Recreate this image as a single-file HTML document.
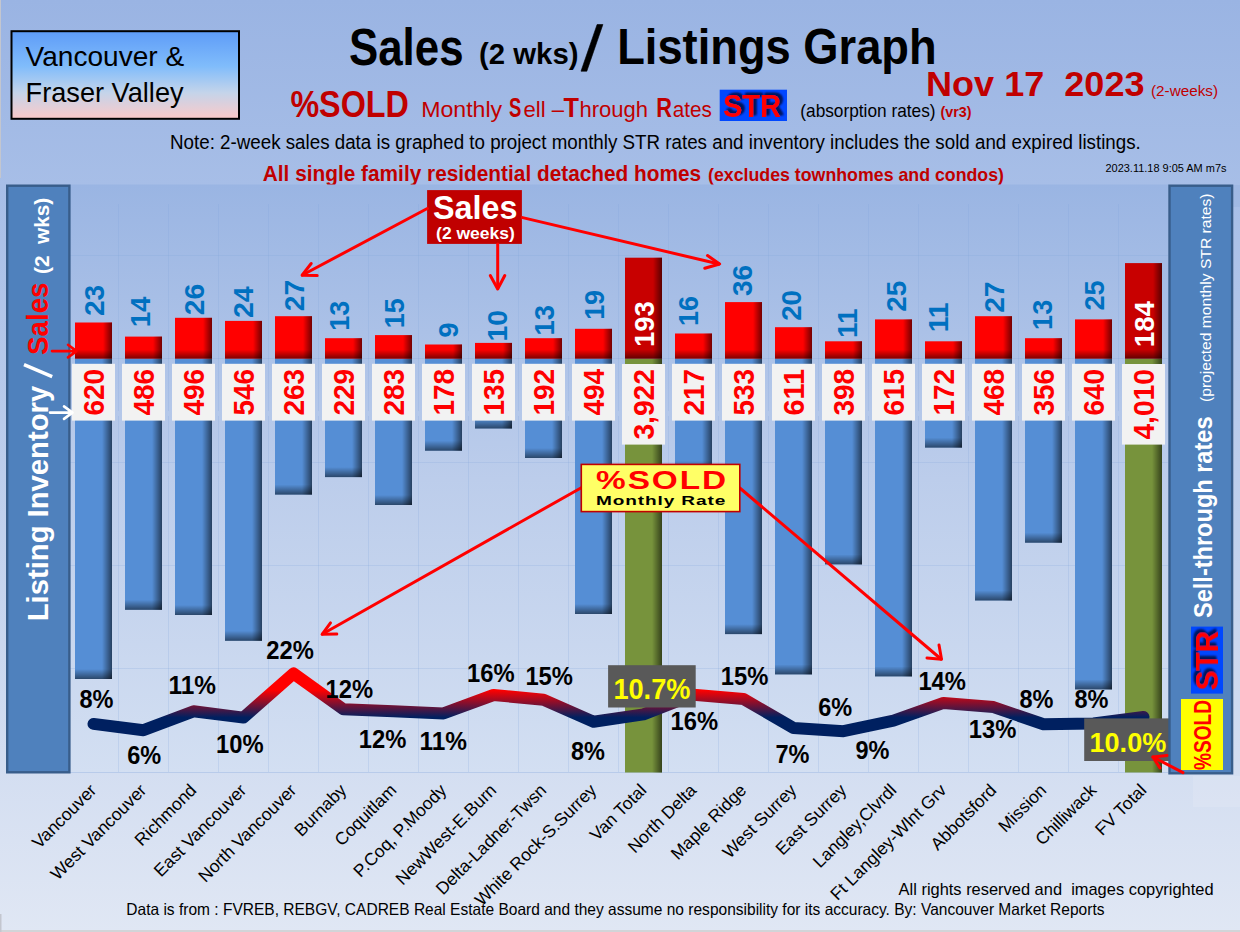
<!DOCTYPE html>
<html><head><meta charset="utf-8"><title>Sales / Listings Graph</title>
<style>
html,body{margin:0;padding:0;background:#dfe6f4;}
svg{display:block;font-family:'Liberation Sans', sans-serif;}
text{white-space:pre;}
</style></head><body>
<svg width="1240" height="932" viewBox="0 0 1240 932">
<defs>
 <linearGradient id="bg" x1="0" y1="0" x2="0" y2="1">
  <stop offset="0" stop-color="#9ab4e3"/>
  <stop offset="0.2" stop-color="#a7bee7"/>
  <stop offset="1" stop-color="#e0e7f4"/>
 </linearGradient>
 <linearGradient id="plot" x1="0" y1="0" x2="0" y2="1">
  <stop offset="0" stop-color="#9ab5e3"/>
  <stop offset="0.5" stop-color="#bccdeb"/>
  <stop offset="1" stop-color="#d3dff2"/>
 </linearGradient>
 <linearGradient id="tbox" x1="0" y1="0" x2="0" y2="1">
  <stop offset="0" stop-color="#5e9cf7"/>
  <stop offset="0.4" stop-color="#80bcfb"/>
  <stop offset="0.7" stop-color="#c4d4ea"/>
  <stop offset="1" stop-color="#fbc9c9"/>
 </linearGradient>
 <linearGradient id="shR" x1="0" y1="0" x2="1" y2="0">
  <stop offset="0" stop-color="#000" stop-opacity="0"/>
  <stop offset="1" stop-color="#000" stop-opacity="0.55"/>
 </linearGradient>
 <linearGradient id="shB" x1="0" y1="0" x2="0" y2="1">
  <stop offset="0" stop-color="#000" stop-opacity="0"/>
  <stop offset="1" stop-color="#000" stop-opacity="0.5"/>
 </linearGradient>
 <linearGradient id="lineg" gradientUnits="userSpaceOnUse" x1="0" y1="667" x2="0" y2="737">
  <stop offset="0" stop-color="#ff0000"/>
  <stop offset="0.33" stop-color="#ff0000"/>
  <stop offset="0.72" stop-color="#002060"/>
  <stop offset="1" stop-color="#002060"/>
 </linearGradient>
 <filter id="strsh" x="-20%" y="-20%" width="140%" height="140%">
  <feGaussianBlur in="SourceAlpha" stdDeviation="1.1"/>
  <feOffset dx="2.6" dy="-1.8" result="b"/>
  <feFlood flood-color="#001a5e"/>
  <feComposite in2="b" operator="in"/>
  <feMerge><feMergeNode/><feMergeNode/><feMergeNode in="SourceGraphic"/></feMerge>
 </filter>
</defs>
<rect x="0" y="0" width="1240" height="932" fill="url(#bg)"/>
<rect x="0" y="930" width="1240" height="2" fill="#d2d4d8"/>
<rect x="1193" y="776" width="47" height="31" fill="#fff" fill-opacity="0.12"/>
<rect x="1233" y="185" width="7" height="22" fill="#90acd9" fill-opacity="0.3"/>
<rect x="0" y="0" width="1" height="178" fill="#c3c6cf"/>
<rect x="0" y="914" width="1.5" height="18" fill="#c3c6cf"/>

<rect x="11.5" y="31.2" width="227.5" height="87.6" fill="url(#tbox)" stroke="#000" stroke-width="2"/>
<text x="25.6" y="65.7" font-size="28" fill="#000" textLength="158.5" lengthAdjust="spacingAndGlyphs">Vancouver &amp;</text>
<text x="25.6" y="102.2" font-size="28" fill="#000" textLength="158" lengthAdjust="spacingAndGlyphs">Fraser Valley</text>
<text x="349" y="64.6" font-size="52" font-weight="bold" fill="#000" textLength="114.5" lengthAdjust="spacingAndGlyphs">Sales</text>
<text x="479" y="63.6" font-size="29" font-weight="bold" fill="#000" textLength="99.5" lengthAdjust="spacingAndGlyphs">(2 wks)</text>
<path d="M581 71.2L586.8 71.2L602.9 24.5L597.1 24.5Z" fill="#000" stroke="#000" stroke-width="0.6" stroke-linejoin="round"/>
<text x="617.2" y="63.8" font-size="50.5" font-weight="bold" fill="#000" textLength="319.5" lengthAdjust="spacingAndGlyphs">Listings Graph</text>
<text x="926" y="96.1" font-size="34.5" font-weight="bold" fill="#c00000" textLength="218.5" lengthAdjust="spacingAndGlyphs">Nov 17  2023</text>
<text x="1151" y="96" font-size="15.5" fill="#c00000" textLength="67" lengthAdjust="spacingAndGlyphs">(2-weeks)</text>
<text x="290.4" y="117" font-size="37.5" font-weight="bold" fill="#c00000" textLength="118.5" lengthAdjust="spacingAndGlyphs">%SOLD</text>
<text x="421.2" y="117" font-size="22.3" fill="#c00000" textLength="81" lengthAdjust="spacingAndGlyphs">Monthly</text>
<text x="509" y="117" font-size="27.5" font-weight="bold" fill="#c00000" textLength="12.3" lengthAdjust="spacingAndGlyphs">S</text>
<text x="523.5" y="117" font-size="22.3" fill="#c00000" textLength="40.5" lengthAdjust="spacingAndGlyphs">ell –</text>
<text x="563.5" y="117" font-size="27.5" font-weight="bold" fill="#c00000" textLength="15.5" lengthAdjust="spacingAndGlyphs">T</text>
<text x="579.4" y="117" font-size="22.3" fill="#c00000" textLength="68.6" lengthAdjust="spacingAndGlyphs">hrough</text>
<text x="656.2" y="117" font-size="27.5" font-weight="bold" fill="#c00000" textLength="15.7" lengthAdjust="spacingAndGlyphs">R</text>
<text x="672.8" y="117" font-size="22.3" fill="#c00000" textLength="39.1" lengthAdjust="spacingAndGlyphs">ates</text>
<rect x="719.7" y="89.7" width="67.3" height="31.3" fill="#0047ff"/>
<text x="723" y="116.6" font-size="31" font-weight="bold" fill="#ff0000" filter="url(#strsh)" textLength="58" lengthAdjust="spacingAndGlyphs">STR</text>
<text x="800.3" y="116.8" font-size="18.5" fill="#000" textLength="135.2" lengthAdjust="spacingAndGlyphs">(absorption rates)</text>
<text x="940.6" y="116.8" font-size="14" font-weight="bold" fill="#c00000" textLength="31" lengthAdjust="spacingAndGlyphs">(vr3)</text>
<text x="170" y="149.2" font-size="19.5" fill="#000" textLength="970.8" lengthAdjust="spacingAndGlyphs">Note: 2-week sales data is graphed to project monthly STR rates and inventory includes the sold and expired listings.</text>
<text x="262.8" y="180.5" font-size="21.4" font-weight="bold" fill="#c00000" textLength="438.4" lengthAdjust="spacingAndGlyphs">All single family residential detached homes</text>
<text x="708" y="180.5" font-size="19" font-weight="bold" fill="#c00000" textLength="296" lengthAdjust="spacingAndGlyphs">(excludes townhomes and condos)</text>
<text x="1105.5" y="172" font-size="11" fill="#000" textLength="121" lengthAdjust="spacingAndGlyphs">2023.11.18 9:05 AM m7s</text>
<rect x="68.5" y="184.5" width="1100" height="588.5" fill="url(#plot)"/>
<path d="M118.5 204V772.5 M168.5 204V772.5 M218.5 204V772.5 M268.5 204V772.5 M318.5 204V772.5 M368.5 204V772.5 M418.5 204V772.5 M468.5 204V772.5 M518.5 204V772.5 M568.5 204V772.5 M618.5 204V772.5 M668.5 204V772.5 M718.5 204V772.5 M768.5 204V772.5 M818.5 204V772.5 M868.5 204V772.5 M918.5 204V772.5 M968.5 204V772.5 M1018.5 204V772.5 M1068.5 204V772.5 M1118.5 204V772.5 M68.5 255.5H1168 M68.5 358.5H1168 M68.5 462.5H1168 M68.5 565.5H1168 M68.5 668.5H1168" stroke="#7fa3dc" stroke-opacity="0.22" stroke-width="1" fill="none"/>
<path d="M68.5 772.5H1168" stroke="#b8cbea" stroke-width="1.2" fill="none"/>
<rect x="75.0" y="358.6" width="37" height="320.4" fill="#558ed5"/>
<rect x="102.0" y="358.6" width="10" height="320.4" fill="url(#shR)"/>
<rect x="75.0" y="669.0" width="37" height="10" fill="url(#shB)"/>
<rect x="125.0" y="358.6" width="37" height="251.2" fill="#558ed5"/>
<rect x="152.0" y="358.6" width="10" height="251.2" fill="url(#shR)"/>
<rect x="125.0" y="599.8" width="37" height="10" fill="url(#shB)"/>
<rect x="175.0" y="358.6" width="37" height="256.4" fill="#558ed5"/>
<rect x="202.0" y="358.6" width="10" height="256.4" fill="url(#shR)"/>
<rect x="175.0" y="605.0" width="37" height="10" fill="url(#shB)"/>
<rect x="225.0" y="358.6" width="37" height="282.2" fill="#558ed5"/>
<rect x="252.0" y="358.6" width="10" height="282.2" fill="url(#shR)"/>
<rect x="225.0" y="630.8" width="37" height="10" fill="url(#shB)"/>
<rect x="275.0" y="358.6" width="37" height="136.0" fill="#558ed5"/>
<rect x="302.0" y="358.6" width="10" height="136.0" fill="url(#shR)"/>
<rect x="275.0" y="484.6" width="37" height="10" fill="url(#shB)"/>
<rect x="325.0" y="358.6" width="37" height="118.5" fill="#558ed5"/>
<rect x="352.0" y="358.6" width="10" height="118.5" fill="url(#shR)"/>
<rect x="325.0" y="467.1" width="37" height="10" fill="url(#shB)"/>
<rect x="375.0" y="358.6" width="37" height="146.4" fill="#558ed5"/>
<rect x="402.0" y="358.6" width="10" height="146.4" fill="url(#shR)"/>
<rect x="375.0" y="495.0" width="37" height="10" fill="url(#shB)"/>
<rect x="425.0" y="358.6" width="37" height="92.1" fill="#558ed5"/>
<rect x="452.0" y="358.6" width="10" height="92.1" fill="url(#shR)"/>
<rect x="425.0" y="440.7" width="37" height="10" fill="url(#shB)"/>
<rect x="475.0" y="358.6" width="37" height="69.9" fill="#558ed5"/>
<rect x="502.0" y="358.6" width="10" height="69.9" fill="url(#shR)"/>
<rect x="475.0" y="418.5" width="37" height="10" fill="url(#shB)"/>
<rect x="525.0" y="358.6" width="37" height="99.4" fill="#558ed5"/>
<rect x="552.0" y="358.6" width="10" height="99.4" fill="url(#shR)"/>
<rect x="525.0" y="448.0" width="37" height="10" fill="url(#shB)"/>
<rect x="575.0" y="358.6" width="37" height="255.4" fill="#558ed5"/>
<rect x="602.0" y="358.6" width="10" height="255.4" fill="url(#shR)"/>
<rect x="575.0" y="604.0" width="37" height="10" fill="url(#shB)"/>
<rect x="625.0" y="358.6" width="37" height="413.9" fill="#77933c"/>
<rect x="652.0" y="358.6" width="10" height="413.9" fill="url(#shR)"/>
<rect x="675.0" y="358.6" width="37" height="112.3" fill="#558ed5"/>
<rect x="702.0" y="358.6" width="10" height="112.3" fill="url(#shR)"/>
<rect x="675.0" y="460.9" width="37" height="10" fill="url(#shB)"/>
<rect x="725.0" y="358.6" width="37" height="275.5" fill="#558ed5"/>
<rect x="752.0" y="358.6" width="10" height="275.5" fill="url(#shR)"/>
<rect x="725.0" y="624.1" width="37" height="10" fill="url(#shB)"/>
<rect x="775.0" y="358.6" width="37" height="315.8" fill="#558ed5"/>
<rect x="802.0" y="358.6" width="10" height="315.8" fill="url(#shR)"/>
<rect x="775.0" y="664.4" width="37" height="10" fill="url(#shB)"/>
<rect x="825.0" y="358.6" width="37" height="205.8" fill="#558ed5"/>
<rect x="852.0" y="358.6" width="10" height="205.8" fill="url(#shR)"/>
<rect x="825.0" y="554.4" width="37" height="10" fill="url(#shB)"/>
<rect x="875.0" y="358.6" width="37" height="317.8" fill="#558ed5"/>
<rect x="902.0" y="358.6" width="10" height="317.8" fill="url(#shR)"/>
<rect x="875.0" y="666.4" width="37" height="10" fill="url(#shB)"/>
<rect x="925.0" y="358.6" width="37" height="89.0" fill="#558ed5"/>
<rect x="952.0" y="358.6" width="10" height="89.0" fill="url(#shR)"/>
<rect x="925.0" y="437.6" width="37" height="10" fill="url(#shB)"/>
<rect x="975.0" y="358.6" width="37" height="241.9" fill="#558ed5"/>
<rect x="1002.0" y="358.6" width="10" height="241.9" fill="url(#shR)"/>
<rect x="975.0" y="590.5" width="37" height="10" fill="url(#shB)"/>
<rect x="1025.0" y="358.6" width="37" height="184.1" fill="#558ed5"/>
<rect x="1052.0" y="358.6" width="10" height="184.1" fill="url(#shR)"/>
<rect x="1025.0" y="532.7" width="37" height="10" fill="url(#shB)"/>
<rect x="1075.0" y="358.6" width="37" height="330.8" fill="#558ed5"/>
<rect x="1102.0" y="358.6" width="10" height="330.8" fill="url(#shR)"/>
<rect x="1075.0" y="679.4" width="37" height="10" fill="url(#shB)"/>
<rect x="1125.0" y="358.6" width="37" height="413.9" fill="#77933c"/>
<rect x="1152.0" y="358.6" width="10" height="413.9" fill="url(#shR)"/>
<rect x="75.0" y="322.5" width="37" height="36.1" fill="#ff0000"/>
<rect x="103.0" y="322.5" width="9" height="36.1" fill="url(#shR)"/>
<rect x="75.0" y="349.6" width="37" height="9" fill="url(#shB)"/>
<rect x="125.0" y="336.6" width="37" height="22.0" fill="#ff0000"/>
<rect x="153.0" y="336.6" width="9" height="22.0" fill="url(#shR)"/>
<rect x="125.0" y="349.6" width="37" height="9" fill="url(#shB)"/>
<rect x="175.0" y="317.8" width="37" height="40.8" fill="#ff0000"/>
<rect x="203.0" y="317.8" width="9" height="40.8" fill="url(#shR)"/>
<rect x="175.0" y="349.6" width="37" height="9" fill="url(#shB)"/>
<rect x="225.0" y="320.9" width="37" height="37.7" fill="#ff0000"/>
<rect x="253.0" y="320.9" width="9" height="37.7" fill="url(#shR)"/>
<rect x="225.0" y="349.6" width="37" height="9" fill="url(#shB)"/>
<rect x="275.0" y="316.2" width="37" height="42.4" fill="#ff0000"/>
<rect x="303.0" y="316.2" width="9" height="42.4" fill="url(#shR)"/>
<rect x="275.0" y="349.6" width="37" height="9" fill="url(#shB)"/>
<rect x="325.0" y="338.2" width="37" height="20.4" fill="#ff0000"/>
<rect x="353.0" y="338.2" width="9" height="20.4" fill="url(#shR)"/>
<rect x="325.0" y="349.6" width="37" height="9" fill="url(#shB)"/>
<rect x="375.0" y="335.1" width="37" height="23.6" fill="#ff0000"/>
<rect x="403.0" y="335.1" width="9" height="23.6" fill="url(#shR)"/>
<rect x="375.0" y="349.6" width="37" height="9" fill="url(#shB)"/>
<rect x="425.0" y="344.5" width="37" height="14.1" fill="#ff0000"/>
<rect x="453.0" y="344.5" width="9" height="14.1" fill="url(#shR)"/>
<rect x="425.0" y="349.6" width="37" height="9" fill="url(#shB)"/>
<rect x="475.0" y="342.9" width="37" height="15.7" fill="#ff0000"/>
<rect x="503.0" y="342.9" width="9" height="15.7" fill="url(#shR)"/>
<rect x="475.0" y="349.6" width="37" height="9" fill="url(#shB)"/>
<rect x="525.0" y="338.2" width="37" height="20.4" fill="#ff0000"/>
<rect x="553.0" y="338.2" width="9" height="20.4" fill="url(#shR)"/>
<rect x="525.0" y="349.6" width="37" height="9" fill="url(#shB)"/>
<rect x="575.0" y="328.8" width="37" height="29.8" fill="#ff0000"/>
<rect x="603.0" y="328.8" width="9" height="29.8" fill="url(#shR)"/>
<rect x="575.0" y="349.6" width="37" height="9" fill="url(#shB)"/>
<rect x="625.0" y="257.7" width="37" height="100.9" fill="#c80000"/>
<rect x="653.0" y="257.7" width="9" height="100.9" fill="url(#shR)"/>
<rect x="625.0" y="349.6" width="37" height="9" fill="url(#shB)"/>
<rect x="675.0" y="333.5" width="37" height="25.1" fill="#ff0000"/>
<rect x="703.0" y="333.5" width="9" height="25.1" fill="url(#shR)"/>
<rect x="675.0" y="349.6" width="37" height="9" fill="url(#shB)"/>
<rect x="725.0" y="302.1" width="37" height="56.5" fill="#ff0000"/>
<rect x="753.0" y="302.1" width="9" height="56.5" fill="url(#shR)"/>
<rect x="725.0" y="349.6" width="37" height="9" fill="url(#shB)"/>
<rect x="775.0" y="327.2" width="37" height="31.4" fill="#ff0000"/>
<rect x="803.0" y="327.2" width="9" height="31.4" fill="url(#shR)"/>
<rect x="775.0" y="349.6" width="37" height="9" fill="url(#shB)"/>
<rect x="825.0" y="341.3" width="37" height="17.3" fill="#ff0000"/>
<rect x="853.0" y="341.3" width="9" height="17.3" fill="url(#shR)"/>
<rect x="825.0" y="349.6" width="37" height="9" fill="url(#shB)"/>
<rect x="875.0" y="319.4" width="37" height="39.2" fill="#ff0000"/>
<rect x="903.0" y="319.4" width="9" height="39.2" fill="url(#shR)"/>
<rect x="875.0" y="349.6" width="37" height="9" fill="url(#shB)"/>
<rect x="925.0" y="341.3" width="37" height="17.3" fill="#ff0000"/>
<rect x="953.0" y="341.3" width="9" height="17.3" fill="url(#shR)"/>
<rect x="925.0" y="349.6" width="37" height="9" fill="url(#shB)"/>
<rect x="975.0" y="316.2" width="37" height="42.4" fill="#ff0000"/>
<rect x="1003.0" y="316.2" width="9" height="42.4" fill="url(#shR)"/>
<rect x="975.0" y="349.6" width="37" height="9" fill="url(#shB)"/>
<rect x="1025.0" y="338.2" width="37" height="20.4" fill="#ff0000"/>
<rect x="1053.0" y="338.2" width="9" height="20.4" fill="url(#shR)"/>
<rect x="1025.0" y="349.6" width="37" height="9" fill="url(#shB)"/>
<rect x="1075.0" y="319.4" width="37" height="39.2" fill="#ff0000"/>
<rect x="1103.0" y="319.4" width="9" height="39.2" fill="url(#shR)"/>
<rect x="1075.0" y="349.6" width="37" height="9" fill="url(#shB)"/>
<rect x="1125.0" y="263.1" width="37" height="95.5" fill="#c80000"/>
<rect x="1153.0" y="263.1" width="9" height="95.5" fill="url(#shR)"/>
<rect x="1125.0" y="349.6" width="37" height="9" fill="url(#shB)"/>
<path d="M68.5 411.5H1168 M68.5 411.5V416 M118.5 411.5V416 M168.5 411.5V416 M218.5 411.5V416 M268.5 411.5V416 M318.5 411.5V416 M368.5 411.5V416 M418.5 411.5V416 M468.5 411.5V416 M518.5 411.5V416 M568.5 411.5V416 M618.5 411.5V416 M668.5 411.5V416 M718.5 411.5V416 M768.5 411.5V416 M818.5 411.5V416 M868.5 411.5V416 M918.5 411.5V416 M968.5 411.5V416 M1018.5 411.5V416 M1068.5 411.5V416 M1118.5 411.5V416 M1168.5 411.5V416" stroke="#b4c8ea" stroke-width="1" fill="none"/>
<rect x="72.0" y="363.8" width="43" height="56.8" fill="#f2f2f2"/>
<text transform="translate(104.0,415.6) rotate(-90)" font-size="29" font-weight="bold" fill="#ff0000" textLength="46.8" lengthAdjust="spacingAndGlyphs">620</text>
<rect x="122.0" y="363.8" width="43" height="56.8" fill="#f2f2f2"/>
<text transform="translate(154.0,415.6) rotate(-90)" font-size="29" font-weight="bold" fill="#ff0000" textLength="46.8" lengthAdjust="spacingAndGlyphs">486</text>
<rect x="172.0" y="363.8" width="43" height="56.8" fill="#f2f2f2"/>
<text transform="translate(204.0,415.6) rotate(-90)" font-size="29" font-weight="bold" fill="#ff0000" textLength="46.8" lengthAdjust="spacingAndGlyphs">496</text>
<rect x="222.0" y="363.8" width="43" height="56.8" fill="#f2f2f2"/>
<text transform="translate(254.0,415.6) rotate(-90)" font-size="29" font-weight="bold" fill="#ff0000" textLength="46.8" lengthAdjust="spacingAndGlyphs">546</text>
<rect x="272.0" y="363.8" width="43" height="56.8" fill="#f2f2f2"/>
<text transform="translate(304.0,415.6) rotate(-90)" font-size="29" font-weight="bold" fill="#ff0000" textLength="46.8" lengthAdjust="spacingAndGlyphs">263</text>
<rect x="322.0" y="363.8" width="43" height="56.8" fill="#f2f2f2"/>
<text transform="translate(354.0,415.6) rotate(-90)" font-size="29" font-weight="bold" fill="#ff0000" textLength="46.8" lengthAdjust="spacingAndGlyphs">229</text>
<rect x="372.0" y="363.8" width="43" height="56.8" fill="#f2f2f2"/>
<text transform="translate(404.0,415.6) rotate(-90)" font-size="29" font-weight="bold" fill="#ff0000" textLength="46.8" lengthAdjust="spacingAndGlyphs">283</text>
<rect x="422.0" y="363.8" width="43" height="56.8" fill="#f2f2f2"/>
<text transform="translate(454.0,415.6) rotate(-90)" font-size="29" font-weight="bold" fill="#ff0000" textLength="46.8" lengthAdjust="spacingAndGlyphs">178</text>
<rect x="472.0" y="363.8" width="43" height="56.8" fill="#f2f2f2"/>
<text transform="translate(504.0,415.6) rotate(-90)" font-size="29" font-weight="bold" fill="#ff0000" textLength="46.8" lengthAdjust="spacingAndGlyphs">135</text>
<rect x="522.0" y="363.8" width="43" height="56.8" fill="#f2f2f2"/>
<text transform="translate(554.0,415.6) rotate(-90)" font-size="29" font-weight="bold" fill="#ff0000" textLength="46.8" lengthAdjust="spacingAndGlyphs">192</text>
<rect x="572.0" y="363.8" width="43" height="56.8" fill="#f2f2f2"/>
<text transform="translate(604.0,415.6) rotate(-90)" font-size="29" font-weight="bold" fill="#ff0000" textLength="46.8" lengthAdjust="spacingAndGlyphs">494</text>
<rect x="622.0" y="364" width="43" height="80.6" fill="#f2f2f2"/>
<text transform="translate(654.0,439.6) rotate(-90)" font-size="29" font-weight="bold" fill="#ff0000" textLength="70.6" lengthAdjust="spacingAndGlyphs">3,922</text>
<rect x="672.0" y="363.8" width="43" height="56.8" fill="#f2f2f2"/>
<text transform="translate(704.0,415.6) rotate(-90)" font-size="29" font-weight="bold" fill="#ff0000" textLength="46.8" lengthAdjust="spacingAndGlyphs">217</text>
<rect x="722.0" y="363.8" width="43" height="56.8" fill="#f2f2f2"/>
<text transform="translate(754.0,415.6) rotate(-90)" font-size="29" font-weight="bold" fill="#ff0000" textLength="46.8" lengthAdjust="spacingAndGlyphs">533</text>
<rect x="772.0" y="363.8" width="43" height="56.8" fill="#f2f2f2"/>
<text transform="translate(804.0,415.6) rotate(-90)" font-size="29" font-weight="bold" fill="#ff0000" textLength="46.8" lengthAdjust="spacingAndGlyphs">611</text>
<rect x="822.0" y="363.8" width="43" height="56.8" fill="#f2f2f2"/>
<text transform="translate(854.0,415.6) rotate(-90)" font-size="29" font-weight="bold" fill="#ff0000" textLength="46.8" lengthAdjust="spacingAndGlyphs">398</text>
<rect x="872.0" y="363.8" width="43" height="56.8" fill="#f2f2f2"/>
<text transform="translate(904.0,415.6) rotate(-90)" font-size="29" font-weight="bold" fill="#ff0000" textLength="46.8" lengthAdjust="spacingAndGlyphs">615</text>
<rect x="922.0" y="363.8" width="43" height="56.8" fill="#f2f2f2"/>
<text transform="translate(954.0,415.6) rotate(-90)" font-size="29" font-weight="bold" fill="#ff0000" textLength="46.8" lengthAdjust="spacingAndGlyphs">172</text>
<rect x="972.0" y="363.8" width="43" height="56.8" fill="#f2f2f2"/>
<text transform="translate(1004.0,415.6) rotate(-90)" font-size="29" font-weight="bold" fill="#ff0000" textLength="46.8" lengthAdjust="spacingAndGlyphs">468</text>
<rect x="1022.0" y="363.8" width="43" height="56.8" fill="#f2f2f2"/>
<text transform="translate(1054.0,415.6) rotate(-90)" font-size="29" font-weight="bold" fill="#ff0000" textLength="46.8" lengthAdjust="spacingAndGlyphs">356</text>
<rect x="1072.0" y="363.8" width="43" height="56.8" fill="#f2f2f2"/>
<text transform="translate(1104.0,415.6) rotate(-90)" font-size="29" font-weight="bold" fill="#ff0000" textLength="46.8" lengthAdjust="spacingAndGlyphs">640</text>
<rect x="1122.0" y="364" width="43" height="80.6" fill="#f2f2f2"/>
<text transform="translate(1154.0,439.6) rotate(-90)" font-size="29" font-weight="bold" fill="#ff0000" textLength="70.6" lengthAdjust="spacingAndGlyphs">4,010</text>
<text transform="translate(104.1,316.0) rotate(-90)" font-size="28.5" font-weight="bold" fill="#0070c0" textLength="31.2" lengthAdjust="spacingAndGlyphs">23</text>
<text transform="translate(150.4,327.3) rotate(-90)" font-size="28.5" font-weight="bold" fill="#0070c0" textLength="30.8" lengthAdjust="spacingAndGlyphs">14</text>
<text transform="translate(204.1,315.2) rotate(-90)" font-size="28.5" font-weight="bold" fill="#0070c0" textLength="31.4" lengthAdjust="spacingAndGlyphs">26</text>
<text transform="translate(252.5,318.1) rotate(-90)" font-size="28.5" font-weight="bold" fill="#0070c0" textLength="31.7" lengthAdjust="spacingAndGlyphs">24</text>
<text transform="translate(304.3,311.2) rotate(-90)" font-size="28.5" font-weight="bold" fill="#0070c0" textLength="31.4" lengthAdjust="spacingAndGlyphs">27</text>
<text transform="translate(349.2,330.8) rotate(-90)" font-size="28.5" font-weight="bold" fill="#0070c0" textLength="29.9" lengthAdjust="spacingAndGlyphs">13</text>
<text transform="translate(404.1,328.2) rotate(-90)" font-size="28.5" font-weight="bold" fill="#0070c0" textLength="29.9" lengthAdjust="spacingAndGlyphs">15</text>
<text transform="translate(458.1,337.8) rotate(-90)" font-size="28.5" font-weight="bold" fill="#0070c0" textLength="15.3" lengthAdjust="spacingAndGlyphs">9</text>
<text transform="translate(507.3,341.4) rotate(-90)" font-size="28.5" font-weight="bold" fill="#0070c0" textLength="31.4" lengthAdjust="spacingAndGlyphs">10</text>
<text transform="translate(553.7,335.4) rotate(-90)" font-size="28.5" font-weight="bold" fill="#0070c0" textLength="30.4" lengthAdjust="spacingAndGlyphs">13</text>
<text transform="translate(603.7,319.8) rotate(-90)" font-size="28.5" font-weight="bold" fill="#0070c0" textLength="29.8" lengthAdjust="spacingAndGlyphs">19</text>
<text transform="translate(654.1,347.0) rotate(-90)" font-size="28.5" font-weight="bold" fill="#fff" textLength="45.9" lengthAdjust="spacingAndGlyphs">193</text>
<text transform="translate(698.4,325.9) rotate(-90)" font-size="28.5" font-weight="bold" fill="#0070c0" textLength="29.8" lengthAdjust="spacingAndGlyphs">16</text>
<text transform="translate(751.9,296.0) rotate(-90)" font-size="28.5" font-weight="bold" fill="#0070c0" textLength="31.2" lengthAdjust="spacingAndGlyphs">36</text>
<text transform="translate(800.9,320.8) rotate(-90)" font-size="28.5" font-weight="bold" fill="#0070c0" textLength="30.8" lengthAdjust="spacingAndGlyphs">20</text>
<text transform="translate(856.7,338.0) rotate(-90)" font-size="28.5" font-weight="bold" fill="#0070c0" textLength="29.4" lengthAdjust="spacingAndGlyphs">11</text>
<text transform="translate(906.1,311.8) rotate(-90)" font-size="28.5" font-weight="bold" fill="#0070c0" textLength="30.9" lengthAdjust="spacingAndGlyphs">25</text>
<text transform="translate(948.4,332.3) rotate(-90)" font-size="28.5" font-weight="bold" fill="#0070c0" textLength="29.8" lengthAdjust="spacingAndGlyphs">11</text>
<text transform="translate(1003.9,312.8) rotate(-90)" font-size="28.5" font-weight="bold" fill="#0070c0" textLength="31.3" lengthAdjust="spacingAndGlyphs">27</text>
<text transform="translate(1052.3,329.9) rotate(-90)" font-size="28.5" font-weight="bold" fill="#0070c0" textLength="30.2" lengthAdjust="spacingAndGlyphs">13</text>
<text transform="translate(1103.7,310.5) rotate(-90)" font-size="28.5" font-weight="bold" fill="#0070c0" textLength="30.2" lengthAdjust="spacingAndGlyphs">25</text>
<text transform="translate(1153.9,347.2) rotate(-90)" font-size="28.5" font-weight="bold" fill="#fff" textLength="46.2" lengthAdjust="spacingAndGlyphs">184</text>
<polyline points="93.5,723.9 143.5,730.2 193.5,711.3 243.5,717.6 293.5,673.5 343.5,709.3 393.5,711.3 443.5,713.4 493.5,695.0 543.5,699.8 593.5,721.8 643.5,714.4 693.5,694.8 743.5,699.0 793.5,728.0 843.5,731.2 893.5,720.7 943.5,702.9 993.5,707.1 1043.5,724.2 1093.5,723.5 1143.5,717.0" fill="none" stroke="url(#lineg)" stroke-width="12" stroke-linejoin="round" stroke-linecap="round"/>
<text x="79.4" y="708.0" font-size="25" font-weight="bold" fill="#000" textLength="34" lengthAdjust="spacingAndGlyphs">8%</text>
<text x="127.2" y="764" font-size="25" font-weight="bold" fill="#000" textLength="34" lengthAdjust="spacingAndGlyphs">6%</text>
<text x="168.4" y="694.3" font-size="25" font-weight="bold" fill="#000" textLength="47.6" lengthAdjust="spacingAndGlyphs">11%</text>
<text x="216.0" y="753.2" font-size="25" font-weight="bold" fill="#000" textLength="47.6" lengthAdjust="spacingAndGlyphs">10%</text>
<text x="266.2" y="659.2" font-size="25" font-weight="bold" fill="#000" textLength="47.6" lengthAdjust="spacingAndGlyphs">22%</text>
<text x="325.6" y="697.7" font-size="25" font-weight="bold" fill="#000" textLength="47.6" lengthAdjust="spacingAndGlyphs">12%</text>
<text x="358.7" y="748" font-size="25" font-weight="bold" fill="#000" textLength="47.6" lengthAdjust="spacingAndGlyphs">12%</text>
<text x="419.4" y="750" font-size="25" font-weight="bold" fill="#000" textLength="47.6" lengthAdjust="spacingAndGlyphs">11%</text>
<text x="467.1" y="682" font-size="25" font-weight="bold" fill="#000" textLength="47.6" lengthAdjust="spacingAndGlyphs">16%</text>
<text x="525.4" y="685.3" font-size="25" font-weight="bold" fill="#000" textLength="47.6" lengthAdjust="spacingAndGlyphs">15%</text>
<text x="571.0" y="759.5" font-size="25" font-weight="bold" fill="#000" textLength="34" lengthAdjust="spacingAndGlyphs">8%</text>
<text x="670.6" y="729.7" font-size="25" font-weight="bold" fill="#000" textLength="47.6" lengthAdjust="spacingAndGlyphs">16%</text>
<text x="720.8" y="684.7" font-size="25" font-weight="bold" fill="#000" textLength="47.6" lengthAdjust="spacingAndGlyphs">15%</text>
<text x="775.4" y="763" font-size="25" font-weight="bold" fill="#000" textLength="34" lengthAdjust="spacingAndGlyphs">7%</text>
<text x="818.2" y="715.5" font-size="25" font-weight="bold" fill="#000" textLength="34" lengthAdjust="spacingAndGlyphs">6%</text>
<text x="855.5" y="759.1" font-size="25" font-weight="bold" fill="#000" textLength="34" lengthAdjust="spacingAndGlyphs">9%</text>
<text x="918.4" y="690.3" font-size="25" font-weight="bold" fill="#000" textLength="47.6" lengthAdjust="spacingAndGlyphs">14%</text>
<text x="968.8" y="738.1" font-size="25" font-weight="bold" fill="#000" textLength="47.6" lengthAdjust="spacingAndGlyphs">13%</text>
<text x="1019.4" y="707.7" font-size="25" font-weight="bold" fill="#000" textLength="34" lengthAdjust="spacingAndGlyphs">8%</text>
<text x="1074.5" y="707.7" font-size="25" font-weight="bold" fill="#000" textLength="34" lengthAdjust="spacingAndGlyphs">8%</text>
<rect x="608.1" y="665.2" width="87.6" height="42.3" fill="#595959"/>
<text x="613.4" y="698.7" font-size="30" font-weight="bold" fill="#ffff00" textLength="77" lengthAdjust="spacingAndGlyphs">10.7%</text>
<rect x="1084.2" y="718.4" width="95" height="42.6" fill="#595959"/>
<text x="1089.5" y="751.5" font-size="28" font-weight="bold" fill="#ffff00" textLength="76.8" lengthAdjust="spacingAndGlyphs">10.0%</text>
<rect x="7.2" y="185.7" width="62.2" height="586.6" fill="#4f81bd" stroke="#385d8a" stroke-width="2.4"/>
<text transform="translate(47.8,621.3) rotate(-90)" font-size="29.5" font-weight="bold" fill="#fff" textLength="235.5" lengthAdjust="spacingAndGlyphs">Listing Inventory</text>
<path d="M24 364.6L52.2 376.6" stroke="#fff" stroke-width="3.4" fill="none"/>
<text transform="translate(48.3,355) rotate(-90)" font-size="29.5" font-weight="bold" fill="#ff0000" textLength="72.5" lengthAdjust="spacingAndGlyphs">Sales</text>
<text transform="translate(49.3,274) rotate(-90)" font-size="21" font-weight="bold" fill="#fff" textLength="76.3" lengthAdjust="spacingAndGlyphs">(2  wks)</text>
<rect x="1169.5" y="185.7" width="62.6" height="587.6" fill="#4f81bd" stroke="#385d8a" stroke-width="2.4"/>
<text transform="translate(1212.3,618) rotate(-90)" font-size="26.5" font-weight="bold" fill="#fff" textLength="201.5" lengthAdjust="spacingAndGlyphs">Sell-through rates</text>
<text transform="translate(1211.2,402) rotate(-90)" font-size="15.2" fill="#fff" textLength="208.5" lengthAdjust="spacingAndGlyphs">(projected monthly STR rates)</text>
<rect x="1191" y="626.6" width="32" height="67" fill="#0047ff"/>
<text transform="translate(1218,690.5) rotate(-90)" font-size="31" font-weight="bold" fill="#ff0000" filter="url(#strsh)" textLength="59.5" lengthAdjust="spacingAndGlyphs">STR</text>
<rect x="1181" y="699" width="42" height="71" fill="#ffff00"/>
<text transform="translate(1211.3,770) rotate(-90)" font-size="24.5" font-weight="bold" fill="#ff0000" textLength="70" lengthAdjust="spacingAndGlyphs">%SOLD</text>
<g stroke="#ff0000" stroke-width="2.6" fill="none" stroke-linecap="round" stroke-linejoin="round"><path d="M52 351.1H76M68 344.8L76.5 351.1L68 357.4"/></g>
<g stroke="#ffffff" stroke-width="2.6" fill="none" stroke-linecap="round" stroke-linejoin="round"><path d="M50 412.6H72M64 406.4L72.5 412.6L64 418.9"/></g>
<rect x="427.1" y="190.1" width="94.8" height="53.8" fill="#c00000"/>
<text x="432.9" y="218.7" font-size="33.5" font-weight="bold" fill="#fff" textLength="84.5" lengthAdjust="spacingAndGlyphs">Sales</text>
<text x="436.1" y="238.6" font-size="17" font-weight="bold" fill="#fff" textLength="78.7" lengthAdjust="spacingAndGlyphs">(2 weeks)</text>
<g stroke="#ff0000" stroke-width="3" fill="none" stroke-linecap="round" stroke-linejoin="round"><path d="M427.3 208.5L302.5 275"/><path d="M311.2 263.5L302.1 275.2L317.2 275.6"/><path d="M497.7 244V288"/><path d="M490.3 275.5L497.7 289L504.8 275.5"/><path d="M522.6 217.6L719 264"/><path d="M707.5 255.6L719.6 264L704.8 268.3"/></g>
<g stroke="#ff0000" stroke-width="3" fill="none" stroke-linecap="round" stroke-linejoin="round"><path d="M581.3 487.7L322.5 634"/><path d="M330.5 622.9L322.1 634.3L336.8 634"/><path d="M739.8 488L941 659"/><path d="M939 645L941.5 659.3L927 658"/><path d="M1183 772.6L1153 757"/><path d="M1167 755.5L1152.9 757L1160 768"/></g>
<rect x="581.3" y="464.4" width="158.5" height="47.2" fill="#ffff66" stroke="#c00000" stroke-width="1.6"/>
<text x="596.1" y="489.1" font-size="26" font-weight="bold" fill="#ff0000" letter-spacing="1.5" textLength="132" lengthAdjust="spacingAndGlyphs">%SOLD</text>
<text x="596.1" y="505.1" font-size="13" font-weight="bold" fill="#000" letter-spacing="0.6" textLength="130" lengthAdjust="spacingAndGlyphs">Monthly Rate</text>
<text transform="translate(97.5,791.3) rotate(-45)" text-anchor="end" font-size="17.5" fill="#000">Vancouver</text>
<text transform="translate(147.5,791.3) rotate(-45)" text-anchor="end" font-size="17.5" fill="#000">West Vancouver</text>
<text transform="translate(197.5,791.3) rotate(-45)" text-anchor="end" font-size="17.5" fill="#000">Richmond</text>
<text transform="translate(247.5,791.3) rotate(-45)" text-anchor="end" font-size="17.5" fill="#000">East Vancouver</text>
<text transform="translate(297.5,791.3) rotate(-45)" text-anchor="end" font-size="17.5" fill="#000">North Vancouver</text>
<text transform="translate(347.5,791.3) rotate(-45)" text-anchor="end" font-size="17.5" fill="#000">Burnaby</text>
<text transform="translate(397.5,791.3) rotate(-45)" text-anchor="end" font-size="17.5" fill="#000">Coquitlam</text>
<text transform="translate(447.5,791.3) rotate(-45)" text-anchor="end" font-size="17.5" fill="#000">P.Coq, P.Moody</text>
<text transform="translate(497.5,791.3) rotate(-45)" text-anchor="end" font-size="17.5" fill="#000">NewWest-E.Burn</text>
<text transform="translate(547.5,791.3) rotate(-45)" text-anchor="end" font-size="17.5" fill="#000">Delta-Ladner-Twsn</text>
<text transform="translate(597.5,791.3) rotate(-45)" text-anchor="end" font-size="17.5" fill="#000">White Rock-S.Surrey</text>
<text transform="translate(647.5,791.3) rotate(-45)" text-anchor="end" font-size="17.5" fill="#000">Van Total</text>
<text transform="translate(697.5,791.3) rotate(-45)" text-anchor="end" font-size="17.5" fill="#000">North Delta</text>
<text transform="translate(747.5,791.3) rotate(-45)" text-anchor="end" font-size="17.5" fill="#000">Maple Ridge</text>
<text transform="translate(797.5,791.3) rotate(-45)" text-anchor="end" font-size="17.5" fill="#000">West Surrey</text>
<text transform="translate(847.5,791.3) rotate(-45)" text-anchor="end" font-size="17.5" fill="#000">East Surrey</text>
<text transform="translate(897.5,791.3) rotate(-45)" text-anchor="end" font-size="17.5" fill="#000">Langley,Clvrdl</text>
<text transform="translate(947.5,791.3) rotate(-45)" text-anchor="end" font-size="17.5" fill="#000">Ft Langley-Wlnt Grv</text>
<text transform="translate(997.5,791.3) rotate(-45)" text-anchor="end" font-size="17.5" fill="#000">Abbotsford</text>
<text transform="translate(1047.5,791.3) rotate(-45)" text-anchor="end" font-size="17.5" fill="#000">Mission</text>
<text transform="translate(1097.5,791.3) rotate(-45)" text-anchor="end" font-size="17.5" fill="#000">Chilliwack</text>
<text transform="translate(1147.5,791.3) rotate(-45)" text-anchor="end" font-size="17.5" fill="#000">FV Total</text>
<text x="898.6" y="895.4" font-size="17" fill="#000" textLength="315" lengthAdjust="spacingAndGlyphs">All rights reserved and  images copyrighted</text>
<text x="126.3" y="915" font-size="16.5" fill="#000" textLength="978.2" lengthAdjust="spacingAndGlyphs">Data is from : FVREB, REBGV, CADREB Real Estate Board and they assume no responsibility for its accuracy. By: Vancouver Market Reports</text>
</svg></body></html>
